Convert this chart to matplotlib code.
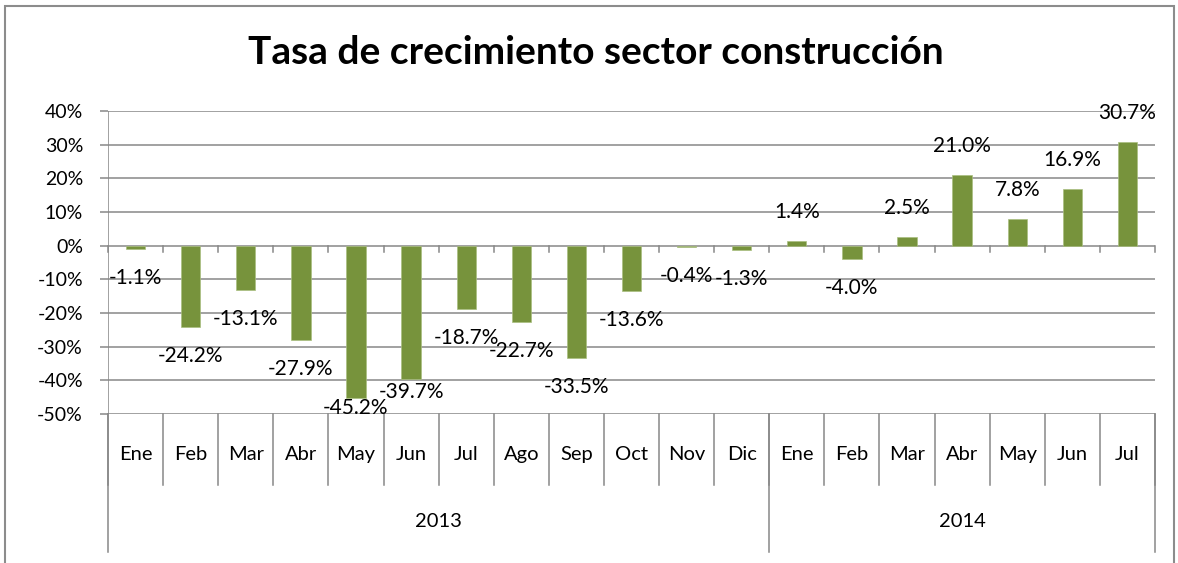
import matplotlib
matplotlib.use("Agg")
import matplotlib.pyplot as plt
import matplotlib.transforms as mtransforms
from matplotlib.patches import Rectangle

plt.rcParams['font.family'] = ['Lato', 'DejaVu Sans']

months = ["Ene", "Feb", "Mar", "Abr", "May", "Jun", "Jul", "Ago", "Sep", "Oct", "Nov", "Dic",
          "Ene", "Feb", "Mar", "Abr", "May", "Jun", "Jul"]
years = ["2013", "2014"]
year_counts = [12, 7]
values = [-1.1, -24.2, -13.1, -27.9, -45.2, -39.7, -18.7, -22.7, -33.5, -13.6, -0.4, -1.3,
          1.4, -4.0, 2.5, 21.0, 7.8, 16.9, 30.7]
title = "Tasa de crecimiento sector construcción"

bar_color = "#77933C"
grid_color = "#888888"

W, H = 1178, 563
fig = plt.figure(figsize=(W / 100, H / 100), dpi=100)
fig.patches.append(Rectangle((5 / W, -0.1), (1174 - 5) / W, 1.1 - 6 / H,
                             transform=fig.transFigure, fill=False,
                             edgecolor="#8c8c8c", linewidth=1.5))

left, right, top, bottom = 108, 1155, 111, 414
ax = fig.add_axes([left / W, 1 - bottom / H, (right - left) / W, (bottom - top) / H])

n = len(values)
x = list(range(n))
ax.bar(x, values, width=0.35, color=bar_color, edgecolor="#a9bf7f", linewidth=0.5, zorder=3)

ax.set_xlim(-0.5, n - 0.5)
ax.set_ylim(-50, 40)
yt = list(range(-50, 41, 10))
ax.set_yticks(yt)
ax.set_yticklabels([f"{v}%" for v in yt], fontsize=14)
ax.tick_params(axis='y', length=6, width=1.1, color=grid_color, pad=12)
ax.set_xticks([])
for y in yt:
    ax.axhline(y, color=grid_color, linewidth=1.1, zorder=1)
for s in ax.spines.values():
    s.set_visible(False)
ax.axvline(-0.5, color=grid_color, linewidth=1.1, zorder=2)

trans = mtransforms.blended_transform_factory(ax.transData, ax.transAxes)

# zero-line tick marks
zero_frac = (0 - (-50)) / 90.0
for b in range(n + 1):
    ax.plot([b - 0.5, b - 0.5], [zero_frac, zero_frac - 0.02], color=grid_color,
            linewidth=1.1, transform=trans, clip_on=False, zorder=2)

# category axis (two levels)
for b in range(n + 1):
    ax.plot([b - 0.5, b - 0.5], [0, -0.234], color=grid_color, linewidth=1.1,
            transform=trans, clip_on=False)
for i, m in enumerate(months):
    ax.text(i, -0.135, m, transform=trans, ha='center', va='center', fontsize=14.5)
start = 0
bounds = [-0.5]
for yname, c in zip(years, year_counts):
    ax.text(start + (c - 1) / 2, -0.356, yname, transform=trans, ha='center', va='center',
            fontsize=14.5)
    start += c
    bounds.append(start - 0.5)
for bx in bounds:
    ax.plot([bx, bx], [0, -0.455], color=grid_color, linewidth=1.1,
            transform=trans, clip_on=False)

# data labels
offset = 8.6
prev = None
for i, v in enumerate(values):
    ly = v - offset if v < 0 else v + offset
    if ly < -48.2:
        ly = -48.2
    if prev is not None and abs(ly - prev) < 4.5 and prev < -40:
        ly = prev + 4.8
    ax.text(i, ly, f"{v:.1f}%", ha='center', va='center', fontsize=15, zorder=4)
    prev = ly

fig.text(596 / W, 1 - 52 / H, title, ha='center', va='center', fontsize=28,
         fontweight='bold')

fig.savefig("out.png", dpi=100)
